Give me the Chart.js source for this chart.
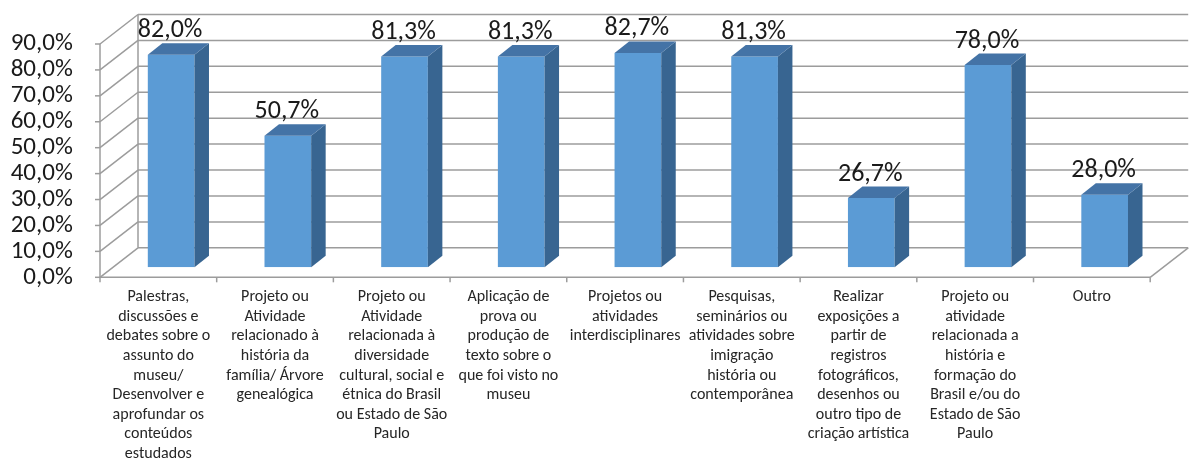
<!DOCTYPE html>
<html>
<head>
<meta charset="utf-8">
<script src="https://cdn.jsdelivr.net/npm/chart.js@4"></script>
<style>
  body { margin: 0; background: #fff; }
  #box { width: 1189px; height: 462px; }
</style>
</head>
<body>
<div id="box"><canvas id="barChart"></canvas></div>
<script>
// data
let categories = [
  ["Palestras,", "discussões e", "debates sobre o", "assunto do", "museu/", "Desenvolver e", "aprofundar os", "conteúdos", "estudados"],
  ["Projeto ou", "Atividade", "relacionado à", "história da", "família/ Árvore", "genealógica"],
  ["Projeto ou", "Atividade", "relacionada à", "diversidade", "cultural, social e", "étnica do Brasil", "ou Estado de São", "Paulo"],
  ["Aplicação de", "prova ou", "produção de", "texto sobre o", "que foi visto no", "museu"],
  ["Projetos ou", "atividades", "interdisciplinares"],
  ["Pesquisas,", "seminários ou", "atividades sobre", "imigração", "história ou", "contemporânea"],
  ["Realizar", "exposições a", "partir de", "registros", "fotográficos,", "desenhos ou", "outro tipo de", "criação artística"],
  ["Projeto ou", "atividade", "relacionada a", "história e", "formação do", "Brasil e/ou do", "Estado de São", "Paulo"],
  ["Outro"]
];
let values = [82.0, 50.7, 81.3, 81.3, 82.7, 81.3, 26.7, 78.0, 28.0];
let yMax = 90;
let yStep = 10;

let font = "Carlito, Calibri, Lato, sans-serif";

// the bars sit in the middle of the 3D box: front plane and back wall are offsets from it
let front = { x: -12.8, y: 10 };
let back = { x: 25.2, y: -19.5 };
let barDepth = { x: 14.5, y: -11.5 };

function fmt(v) {
  return v.toFixed(1).replace(".", ",") + "%";
}

function line(ctx, x1, y1, x2, y2) {
  ctx.beginPath();
  ctx.moveTo(x1, y1);
  ctx.lineTo(x2, y2);
  ctx.stroke();
}

let box3d = {
  id: "box3d",
  beforeDatasetsDraw(chart) {
    let ctx = chart.ctx;
    let xs = chart.scales.x;
    let ys = chart.scales.y;
    let L = xs.left, R = xs.right;
    let y0 = ys.getPixelForValue(0);
    let yTop = ys.getPixelForValue(yMax);

    ctx.save();
    ctx.strokeStyle = "#9c9c9c";
    ctx.lineWidth = 1.5;

    for (let v = 0; v <= yMax; v += yStep) {
      let yp = ys.getPixelForValue(v);
      line(ctx, L + back.x, yp + back.y, R + back.x, yp + back.y);
      line(ctx, L + front.x, yp + front.y, L + back.x, yp + back.y);
      line(ctx, L + front.x - 5, yp + front.y, L + front.x, yp + front.y);
    }

    // walls edges
    line(ctx, L + back.x, y0 + back.y, L + back.x, yTop + back.y);
    line(ctx, L + front.x, y0 + front.y, L + front.x, yTop + front.y);

    // floor
    line(ctx, L + front.x, y0 + front.y, R + front.x, y0 + front.y);
    line(ctx, R + front.x, y0 + front.y, R + back.x, y0 + back.y);

    // category tick marks
    let n = categories.length;
    for (let i = 0; i <= n; i++) {
      let x;
      if (i == 0) x = L;
      else if (i == n) x = R;
      else x = (xs.getPixelForValue(i - 1) + xs.getPixelForValue(i)) / 2;
      line(ctx, x + front.x, y0 + front.y, x + front.x, y0 + front.y + 5);
    }
    ctx.restore();
  },
  afterDatasetsDraw(chart) {
    let ctx = chart.ctx;
    let meta = chart.getDatasetMeta(0);
    ctx.save();
    meta.data.forEach((bar, i) => {
      let w = bar.width / 2;
      let dx = barDepth.x, dy = barDepth.y;

      // side face
      ctx.fillStyle = "#386591";
      ctx.beginPath();
      ctx.moveTo(bar.x + w, bar.y);
      ctx.lineTo(bar.x + w + dx, bar.y + dy);
      ctx.lineTo(bar.x + w + dx, bar.base + dy);
      ctx.lineTo(bar.x + w, bar.base);
      ctx.closePath();
      ctx.fill();

      // top face
      ctx.fillStyle = "#4473a6";
      ctx.beginPath();
      ctx.moveTo(bar.x - w, bar.y);
      ctx.lineTo(bar.x - w + dx, bar.y + dy);
      ctx.lineTo(bar.x + w + dx, bar.y + dy);
      ctx.lineTo(bar.x + w, bar.y);
      ctx.closePath();
      ctx.fill();

      // value label
      ctx.fillStyle = "#1a1a1a";
      ctx.font = "26px " + font;
      ctx.textAlign = "center";
      ctx.textBaseline = "middle";
      ctx.fillText(fmt(values[i]), bar.x - 1, bar.y - 24);
    });
    ctx.restore();
  }
};

let chart = new Chart(document.getElementById("barChart"), {
  type: "bar",
  data: {
    labels: categories,
    datasets: [{
      data: values,
      backgroundColor: "#5b9bd5",
      categoryPercentage: 1,
      barPercentage: 0.4
    }]
  },
  options: {
    responsive: true,
    maintainAspectRatio: false,
    animation: false,
    layout: { padding: { left: 0, right: 26, top: 34, bottom: 0 } },
    plugins: {
      legend: { display: false },
      tooltip: { enabled: false }
    },
    scales: {
      x: {
        grid: { display: false, drawTicks: false },
        border: { display: false },
        ticks: {
          autoSkip: false,
          minRotation: 0,
          maxRotation: 0,
          padding: 20,
          labelOffset: front.x,
          color: "#262626",
          font: { family: font, size: 16, lineHeight: "19.6px" }
        },
        afterFit(scale) {
          scale.height = 194.7;
          scale.paddingLeft = 0;
          scale.paddingRight = 0;
        }
      },
      y: {
        min: 0,
        max: yMax,
        grid: { display: false, drawTicks: false },
        border: { display: false },
        ticks: {
          stepSize: yStep,
          autoSkip: false,
          padding: 40,
          labelOffset: front.y,
          color: "#1a1a1a",
          font: { family: font, size: 25 },
          callback: v => fmt(v)
        },
        afterFit(scale) {
          scale.width = 112.8;
          scale.paddingTop = 0;
          scale.paddingBottom = 0;
        }
      }
    }
  },
  plugins: [box3d]
});
</script>
</body>
</html>
